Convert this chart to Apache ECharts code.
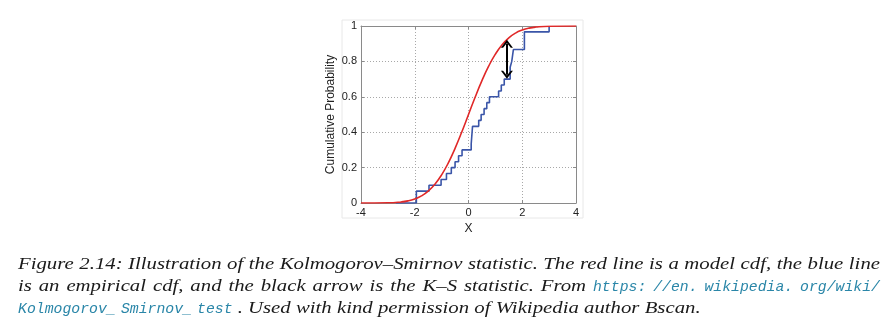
<!DOCTYPE html>
<html>
<head>
<meta charset="utf-8">
<script src="https://cdn.jsdelivr.net/npm/echarts@6/dist/echarts.min.js"></script>
<style>
html,body{margin:0;padding:0;background:#fff;}
#chart{width:896px;height:335px;}
</style>
</head>
<body>
<div id="chart"></div>
<script>
// ---- data ----
const xTicks = [-4, -2, 0, 2, 4];
const yTicks = [0, 0.2, 0.4, 0.6, 0.8, 1];
// model cdf (red)
const modelX = [-4, -3, -2.5, -2.25, -2, -1.75, -1.5, -1.25, -1, -0.75, -0.5, -0.25, 0, 0.25, 0.5, 0.75, 1, 1.25, 1.5, 1.75, 2, 2.25, 2.5, 3, 4];
const modelY = [0, 0.001, 0.006, 0.012, 0.023, 0.04, 0.067, 0.106, 0.159, 0.227, 0.309, 0.401, 0.5, 0.599, 0.691, 0.773, 0.841, 0.894, 0.933, 0.96, 0.977, 0.988, 0.994, 0.999, 1];
// empirical cdf (blue): jump positions and level after each jump
const empX = [-2.7, -1.94, -1.47, -1.02, -0.82, -0.64, -0.5, -0.37, -0.24, 0.1, 0.15, 0.38, 0.47, 0.58, 0.68, 0.78, 1.12, 1.22, 1.33, 1.55, 1.61, 1.67, 2.08, 3.0];
const empY = [0, 0.067, 0.1, 0.133, 0.167, 0.2, 0.233, 0.267, 0.3, 0.333, 0.433, 0.467, 0.5, 0.533, 0.567, 0.6, 0.633, 0.667, 0.7, 0.767, 0.8, 0.867, 0.967, 1.0];
// K-S arrow
const arrowX = 1.43;
const arrowLow = 0.705;
const arrowHigh = 0.92;

const xName = 'X';
const yName = 'Cumulative Probability';

const captionLines = [
  [{t: 'Figure 2.14: Illustration of the Kolmogorov\u2013Smirnov statistic. The red line is a model cdf, the blue line', k: 's'}],
  [{t: 'is an empirical cdf, and the black arrow is the K\u2013S statistic. From', k: 's'}, {t: 'https: //en. wikipedia. org/wiki/', k: 'm'}],
  [{t: 'Kolmogorov_ Smirnov_ test', k: 'm'}, {t: '. Used with kind permission of Wikipedia author Bscan.', k: 's'}]
];

// ---- caption layout (justified text) ----
const SERIF_FONT = 'italic 17px "Liberation Serif"';
const MONO_FONT = 'italic 15px "Liberation Mono"';
const cnv = document.createElement('canvas').getContext('2d');
function measure(t, f) { cnv.font = f; return cnv.measureText(t).width; }
const serifStretch = Math.max(0.9, Math.min(1.35, 463 / measure('. Used with kind permission of Wikipedia author Bscan.', SERIF_FONT)));
const monoStretch = Math.max(0.85, Math.min(1.2, 222 / measure('Kolmogorov_ Smirnov_ test', MONO_FONT)));

function buildLine(segs, left, right, cy, justify) {
  const words = [];
  segs.forEach(s => {
    s.t.split(' ').filter(w => w.length).forEach(w => {
      const f = s.k === 's' ? SERIF_FONT : MONO_FONT;
      const sx = s.k === 's' ? serifStretch : monoStretch;
      words.push({w, f, sx, fill: s.k === 's' ? '#1a1a1a' : '#2a86a8', width: measure(w, f) * sx, k: s.k});
    });
  });
  const total = words.reduce((a, b) => a + b.width, 0);
  const normalGap = measure(' ', SERIF_FONT) * serifStretch;
  const gap = justify ? (right - left - total) / (words.length - 1) : normalGap;
  const els = [];
  let x = left;
  words.forEach((wd, i) => {
    if (i > 0 && !justify && wd.w[0] === '.') x += 1 - normalGap + 4;
    els.push({
      type: 'text', x: x, y: cy, scaleX: wd.sx, silent: true,
      style: {text: wd.w, font: wd.f, fill: wd.fill, verticalAlign: 'middle', align: 'left'}
    });
    x += wd.width + gap;
  });
  return els;
}

const graphics = [
  {type: 'rect', silent: true, z: -1, shape: {x: 342, y: 20, width: 241, height: 198}, style: {fill: 'none', stroke: '#e8e8e8', lineWidth: 1}}
];
graphics.push(...buildLine(captionLines[0], 18, 880, 265, true));
graphics.push(...buildLine(captionLines[1], 18, 880, 287, true));
graphics.push(...buildLine(captionLines[2], 18, 880, 309, false));

// ---- chart ----
const axisGray = '#8a8a8a';
const labelFont = {color: '#222', fontSize: 11, fontFamily: '"Liberation Sans", Arial, sans-serif'};
const chevron = 'path://M0,10 L5,0 L10,10 L8.2,10 L5,4 L1.8,10 Z';

const chart = echarts.init(document.getElementById('chart'), null, {renderer: 'canvas'});
chart.setOption({
  animation: false,
  backgroundColor: '#fff',
  grid: {left: 361, right: 320, top: 26, bottom: 132, containLabel: false},
  xAxis: [
    {
      type: 'value', min: xTicks[0], max: xTicks[xTicks.length - 1], interval: 2, position: 'bottom',
      name: xName, nameLocation: 'middle', nameGap: 15,
      nameTextStyle: {color: '#222', fontSize: 12, fontFamily: '"Liberation Sans", Arial, sans-serif'},
      axisLine: {show: true, onZero: false, lineStyle: {color: axisGray, width: 1}},
      axisTick: {show: true, inside: true, length: 3, lineStyle: {color: axisGray}},
      axisLabel: Object.assign({margin: 4}, labelFont),
      splitLine: {show: true, lineStyle: {color: '#a8a8a8', type: [1, 2], width: 1}}
    },
    {
      type: 'value', min: xTicks[0], max: xTicks[xTicks.length - 1], interval: 2, position: 'top',
      axisLine: {show: true, onZero: false, lineStyle: {color: axisGray, width: 1}},
      axisTick: {show: true, inside: true, length: 3, lineStyle: {color: axisGray}},
      axisLabel: {show: false}, splitLine: {show: false}
    }
  ],
  yAxis: [
    {
      type: 'value', min: yTicks[0], max: yTicks[yTicks.length - 1], interval: 0.2, position: 'left',
      name: yName, nameLocation: 'middle', nameGap: 24,
      nameTextStyle: {color: '#222', fontSize: 12, fontFamily: '"Liberation Sans", Arial, sans-serif'},
      axisLine: {show: true, onZero: false, lineStyle: {color: axisGray, width: 1}},
      axisTick: {show: true, inside: true, length: 3, lineStyle: {color: axisGray}},
      axisLabel: Object.assign({margin: 4}, labelFont),
      splitLine: {show: true, lineStyle: {color: '#a8a8a8', type: [1, 2], width: 1}}
    },
    {
      type: 'value', min: yTicks[0], max: yTicks[yTicks.length - 1], interval: 0.2, position: 'right',
      axisLine: {show: true, onZero: false, lineStyle: {color: axisGray, width: 1}},
      axisTick: {show: true, inside: true, length: 3, lineStyle: {color: axisGray}},
      axisLabel: {show: false}, splitLine: {show: false}
    }
  ],
  series: [
    {
      name: 'empirical', type: 'line', step: 'end', xAxisIndex: 0, yAxisIndex: 0,
      data: empX.map((x, i) => [x, empY[i]]),
      showSymbol: false, symbol: 'none', z: 3,
      lineStyle: {color: '#3a55a8', width: 1.6}
    },
    {
      name: 'model', type: 'line', smooth: 0.5, xAxisIndex: 0, yAxisIndex: 0,
      data: modelX.map((x, i) => [x, modelY[i]]),
      showSymbol: false, symbol: 'none', z: 4,
      lineStyle: {color: '#e02828', width: 1.6}
    },
    {
      name: 'ks', type: 'line', xAxisIndex: 0, yAxisIndex: 0, data: [], z: 5,
      markLine: {
        silent: true, animation: false,
        symbol: [chevron, chevron], symbolSize: [12, 8],
        label: {show: false},
        lineStyle: {color: '#000', width: 2, type: 'solid'},
        itemStyle: {color: '#000'},
        data: [[{coord: [arrowX, arrowLow + 0.02]}, {coord: [arrowX, arrowHigh - 0.02]}]]
      }
    }
  ],
  graphic: graphics
});
</script>
</body>
</html>
